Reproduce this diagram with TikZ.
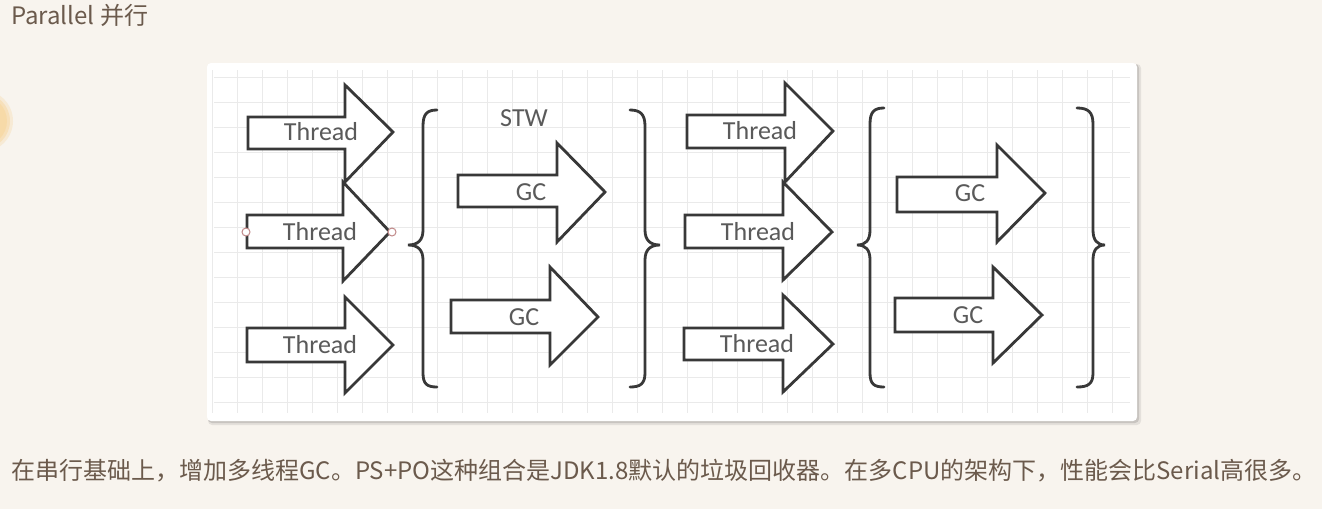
\documentclass[tikz,border=0pt]{standalone}
\usepackage{fontspec}
\setmainfont{Carlito}
\newfontfamily\cjk{Noto Sans CJK SC}
\definecolor{bgc}{HTML}{F8F4EE}
\definecolor{txtc}{HTML}{6B5A4C}
\definecolor{strk}{HTML}{383838}
\definecolor{lblc}{HTML}{5A5A5A}
\definecolor{gridc}{HTML}{EAEAEA}
\definecolor{blob}{HTML}{F7DAA8}
\definecolor{handle}{HTML}{C08888}
\tikzset{
  blockarrow/.style={draw=strk, line width=2.8pt, fill=white, line join=miter},
  lbl/.style={text=lblc, font=\fontsize{26}{28}\selectfont, inner sep=0pt},
  bracestyle/.style={draw=strk, line width=2.8pt, line cap=round},
  handlestyle/.style={draw=handle, fill=white, line width=1pt},
}
% #1 name, #2 xl, #3 shaft top, #4 shaft bottom, #5 head base, #6 head top, #7 head bottom, #8 tip x, #9 tip y
\newcommand{\barrow}[9]{%
  \draw[blockarrow] (#2,#3) -- (#5,#3) -- (#5,#6) -- (#8,#9) -- (#5,#7) -- (#5,#4) -- (#2,#4) -- cycle;
  \coordinate (#1) at ({#2+73},#9);
}
\begin{document}
\begin{tikzpicture}[x=1pt,y=-1pt]
\useasboundingbox (0,0) rectangle (1322,509);
\fill[bgc] (0,0) rectangle (1322,509);
% orange blob
\fill[blob, opacity=0.35] (-18,121) circle (31);
\fill[blob, opacity=0.6] (-18,121) circle (28);
\fill[blob] (-18,121) circle (25);
% panel with shadow
\fill[black, opacity=0.08, rounded corners=4pt] (208,64) rectangle (1141,425);
\fill[black, opacity=0.12, rounded corners=4pt] (208,64) rectangle (1139,423);
\fill[white, rounded corners=4pt] (207,63) rectangle (1137,421);
% grid
\foreach \gx in {0,...,36} \draw[gridc, line width=1pt] ({212+25*\gx},70) -- ({212+25*\gx},413);
\foreach \gy in {0,...,13} \draw[gridc, line width=1pt] (214,{77+25*\gy}) -- (1130,{77+25*\gy});
% title
\node[anchor=west, text=txtc, inner sep=0pt, font=\cjk\fontsize{24}{26}\selectfont] (title) at (11,15) {Parallel 并行};
% left thread arrows
\barrow{t1}{248}{117}{149}{345}{85}{182}{393}{132}
\barrow{t2}{247}{215}{248}{343}{182}{281}{390}{232}
\barrow{t3}{247}{328}{362}{345}{297}{393}{393}{345}
\node[lbl] (t1l) at (t1) {Thread};
\node[lbl] (t2l) at (t2) {Thread};
\node[lbl] (t3l) at (t3) {Thread};
\draw[handlestyle] (246,232) circle (4);
\draw[handlestyle] (392,232) circle (4);
% first GC group
\barrow{g1}{458}{175}{207}{557}{143}{242}{605}{192}
\barrow{g2}{451}{300}{333}{550}{267}{365}{598}{317}
\node[lbl] (g1l) at (g1) {GC};
\node[lbl] (g2l) at (g2) {GC};
\node[lbl] (stw) at (524,118) {STW};
% second thread arrows
\barrow{t4}{687}{115}{148}{785}{83}{182}{833}{131}
\barrow{t5}{685}{215}{248}{783}{182}{280}{832}{232}
\barrow{t6}{684}{328}{360}{783}{295}{392}{833}{344}
\node[lbl] (t4l) at (t4) {Thread};
\node[lbl] (t5l) at (t5) {Thread};
\node[lbl] (t6l) at (t6) {Thread};
% second GC group
\barrow{g3}{897}{177}{212}{997}{145}{242}{1045}{193}
\barrow{g4}{895}{298}{332}{993}{267}{363}{1042}{315}
\node[lbl] (g3l) at (g3) {GC};
\node[lbl] (g4l) at (g4) {GC};
% braces
\draw[bracestyle] (437,110) .. controls (427,110) and (423,114) .. (423,126) -- (423,230) .. controls (423,240) and (418,245) .. (408,245) .. controls (418,245) and (423,250) .. (423,260) -- (423,373) .. controls (423,384) and (427,387) .. (437,387);
\draw[bracestyle] (630,110) .. controls (640,110) and (645,114) .. (645,126) -- (645,230) .. controls (645,240) and (650,245) .. (660,245) .. controls (650,245) and (645,250) .. (645,260) -- (645,373) .. controls (645,384) and (640,387) .. (630,387);
\draw[bracestyle] (884,108) .. controls (874,108) and (870,112) .. (870,124) -- (870,230) .. controls (870,240) and (866,245) .. (857,245) .. controls (866,245) and (870,250) .. (870,260) -- (870,373) .. controls (870,384) and (874,387) .. (884,387);
\draw[bracestyle] (1077,108) .. controls (1088,108) and (1093,112) .. (1093,124) -- (1093,230) .. controls (1093,240) and (1097,245) .. (1105,245) .. controls (1097,245) and (1093,250) .. (1093,260) -- (1093,373) .. controls (1093,384) and (1088,387) .. (1077,387);
% bottom text
\node[anchor=west, text=txtc, inner sep=0pt, font=\cjk\fontsize{24}{26}\selectfont] (desc) at (11,471) {在串行基础上，增加多线程GC。PS+PO这种组合是JDK1.8默认的垃圾回收器。在多CPU的架构下，性能会比Serial高很多。};
\end{tikzpicture}
\end{document}
